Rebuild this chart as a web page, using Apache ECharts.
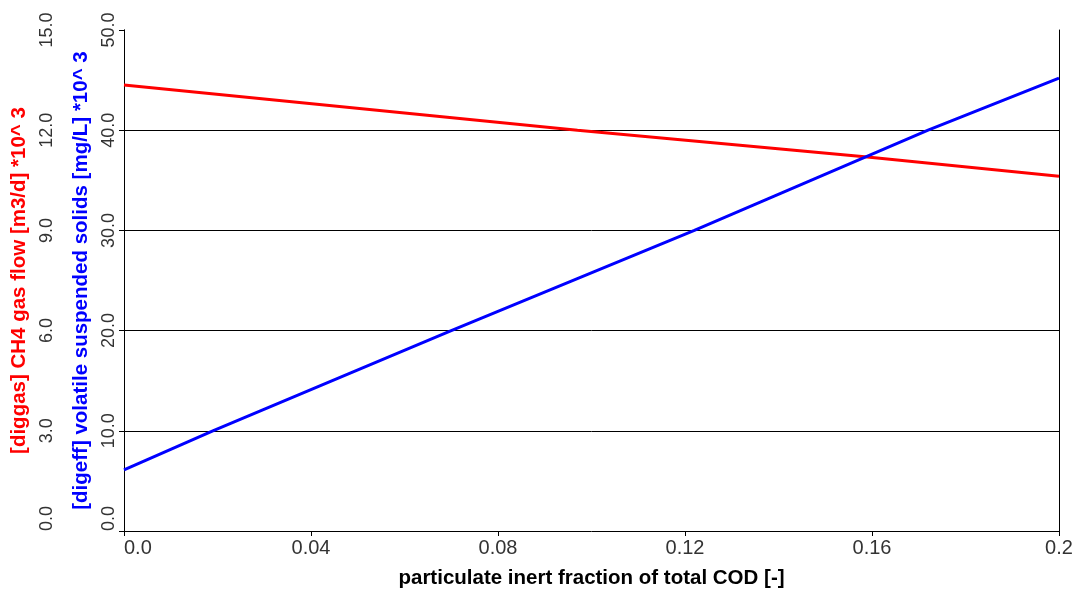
<!DOCTYPE html>
<html>
<head>
<meta charset="utf-8">
<script src="https://cdn.jsdelivr.net/npm/echarts@6/dist/echarts.min.js"></script>
<style>
html,body{margin:0;padding:0;background:#fff;}
#chart{width:1074px;height:591px;}
</style>
</head>
<body>
<div id="chart"></div>
<script>
// ---- data ----
var xTickLabels = ['0.0', '0.04', '0.08', '0.12', '0.16', '0.2'];
var gasTickLabels = ['0.0', '3.0', '6.0', '9.0', '12.0', '15.0'];
var vssTickLabels = ['0.0', '10.0', '20.0', '30.0', '40.0', '50.0'];

var xTitle = 'particulate inert fraction of total COD [-]';
var gasTitle = '[diggas] CH4 gas flow [m3/d] *10^ 3';
var vssTitle = '[digeff] volatile suspended solids [mg/L] *10^ 3';

// CH4 gas flow (*10^3 m3/d) vs particulate inert fraction
var gasX = [0.0, 0.097, 0.159, 0.2];
var gasY = [13.35, 12.0, 11.2, 10.62];
// volatile suspended solids (*10^3 mg/L)
var vssX = [0.0, 0.019, 0.070, 0.122, 0.172, 0.2];
var vssY = [6.1, 10.0, 20.0, 30.0, 40.0, 45.2];

function pairs(xs, ys){ return xs.map(function(x,i){ return [x, ys[i]]; }); }

var FONT = "'Liberation Sans', Arial, sans-serif";
var RED = '#ff0000';
var BLUE = '#0000ff';

var chart = echarts.init(document.getElementById('chart'), null, {renderer:'canvas'});
chart.setOption({
  backgroundColor: '#ffffff',
  animation: false,
  grid: {left: 124, right: 15, top: 30, bottom: 60, containLabel: false, outerBoundsMode: 'none'},
  xAxis: {
    type: 'value', min: 0, max: 0.2, interval: 0.04,
    name: xTitle, nameLocation: 'middle', nameGap: 37,
    nameTextStyle: {fontFamily: FONT, fontWeight: 'bold', fontSize: 20.5, color: '#000'},
    axisLine: {show: true, onZero: false, lineStyle: {color: '#000', width: 1}},
    axisTick: {show: true, length: 5, lineStyle: {color: '#000'}},
    axisLabel: {
      fontFamily: FONT, fontSize: 20, color: '#333', margin: 7,
      alignMinLabel: 'left',
      formatter: function(v){ return xTickLabels[Math.round(v/0.04)]; }
    },
    splitLine: {show: false}
  },
  yAxis: [
    {
      type: 'value', min: 0, max: 15, interval: 3, position: 'left', offset: 62,
      name: gasTitle, nameLocation: 'middle', nameGap: 31,
      nameTextStyle: {fontFamily: FONT, fontWeight: 'bold', fontSize: 20.5, color: RED},
      axisLine: {show: true, lineStyle: {color: '#000', width: 1}},
      axisTick: {show: true, length: 5, lineStyle: {color: '#000'}},
      axisLabel: {
        fontFamily: FONT, fontSize: 18, color: '#333', margin: 6, rotate: 90,
        alignMinLabel: 'left',
        formatter: function(v){ return gasTickLabels[Math.round(v/3)]; }
      },
      splitLine: {show: false}
    },
    {
      type: 'value', min: 0, max: 50, interval: 10, position: 'left', offset: 0,
      name: vssTitle, nameLocation: 'middle', nameGap: 30,
      nameTextStyle: {fontFamily: FONT, fontWeight: 'bold', fontSize: 20.5, color: BLUE},
      axisLine: {show: true, lineStyle: {color: '#000', width: 1}},
      axisTick: {show: true, length: 5, lineStyle: {color: '#000'}},
      axisLabel: {
        fontFamily: FONT, fontSize: 18, color: '#333', margin: 6, rotate: 90,
        alignMinLabel: 'left',
        formatter: function(v){ return vssTickLabels[Math.round(v/10)]; }
      },
      splitLine: {show: true, showMinLine: false, showMaxLine: false, lineStyle: {color: '#000', width: 1}}
    },
    {
      type: 'value', min: 0, max: 1, position: 'right',
      axisLine: {show: true, lineStyle: {color: '#000', width: 1}},
      axisTick: {show: false}, axisLabel: {show: false}, splitLine: {show: false}
    }
  ],
  series: [
    {
      name: 'CH4 gas flow', type: 'line', yAxisIndex: 0, data: pairs(gasX, gasY),
      showSymbol: false, symbol: 'none', lineStyle: {color: RED, width: 3}, itemStyle: {color: RED}
    },
    {
      name: 'volatile suspended solids', type: 'line', yAxisIndex: 1, data: pairs(vssX, vssY),
      showSymbol: false, symbol: 'none', lineStyle: {color: BLUE, width: 3}, itemStyle: {color: BLUE}
    }
  ]
});
</script>
</body>
</html>
